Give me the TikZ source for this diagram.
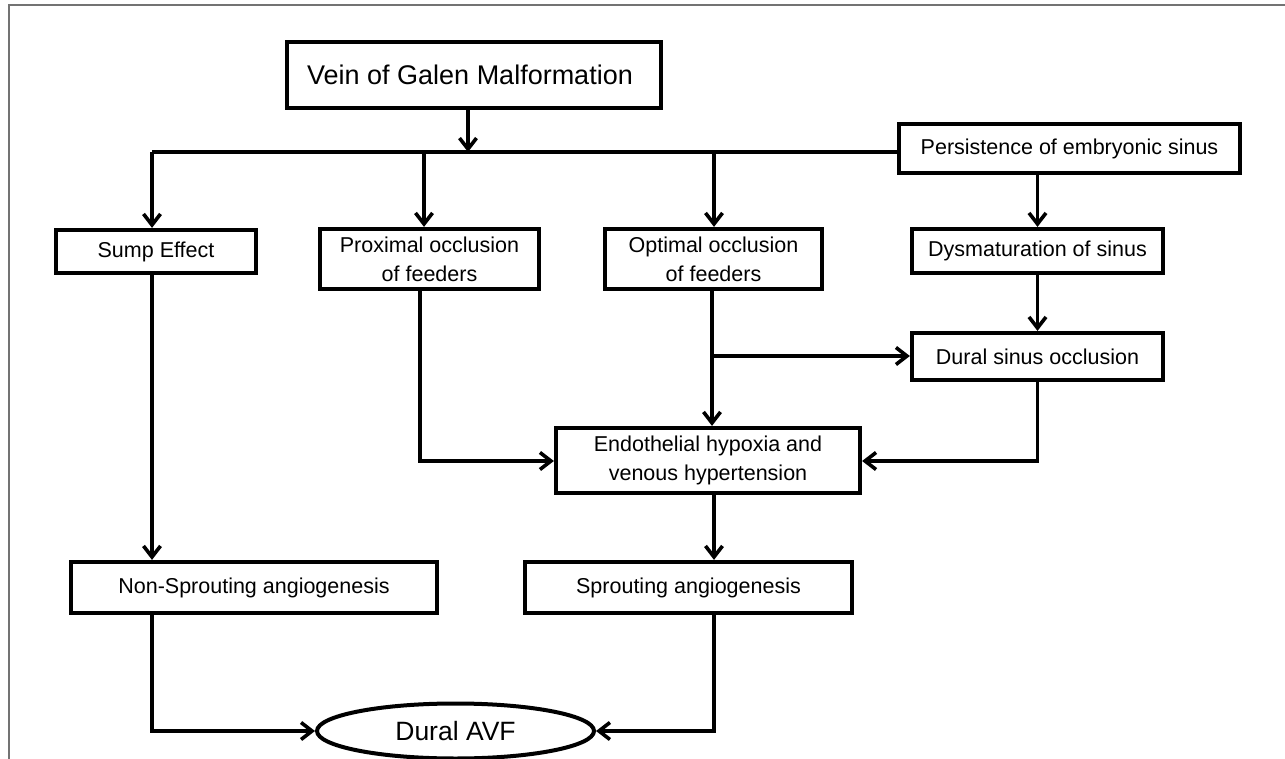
\documentclass[tikz,border=0pt]{standalone}
\usepackage{fontspec}
\setmainfont{Liberation Sans}
\usetikzlibrary{arrows.meta,shapes.geometric}
\begin{document}
\begin{tikzpicture}[x=1pt,y=-1pt,
  box/.style={draw, line width=4.2pt, rectangle, inner sep=0pt, align=center,
    font=\fontsize{21.5}{29}\selectfont},
  conn/.style={line width=3.6pt, line cap=butt, line join=miter},
  arr/.style={conn, -{Straight Barb[length=11pt,width=17pt]}}]
\useasboundingbox (0,0) rectangle (1285,759);
\fill[white] (0,0) rectangle (1285,759);
\draw[black!55, line width=1.3pt] (9,759) -- (9,5) -- (1285,5);

% nodes
\node[box, minimum width=374pt, minimum height=66pt, font=\fontsize{27}{32}\selectfont] (vein) at (474,75) {Vein of Galen Malformation\hspace*{8pt}};
\node[box, minimum width=341pt, minimum height=49pt] (pers) at (1069.5,148.5) {Persistence of embryonic sinus};
\node[box, minimum width=200pt, minimum height=43pt] (sump) at (156,251.5) {Sump Effect};
\node[box, minimum width=219pt, minimum height=60pt] (prox) at (429.5,259) {Proximal occlusion\\of feeders};
\node[box, minimum width=217pt, minimum height=60pt] (opt) at (713.5,259) {Optimal occlusion\\of feeders};
\node[box, minimum width=251pt, minimum height=44pt] (dys) at (1037.5,251) {Dysmaturation of sinus};
\node[box, minimum width=251pt, minimum height=47pt] (dural) at (1037.5,356.5) {Dural sinus occlusion};
\node[box, minimum width=304pt, minimum height=65pt] (endo) at (708,460.5) {Endothelial hypoxia and\\venous hypertension};
\node[box, minimum width=366pt, minimum height=51pt] (nons) at (254,587.5) {Non-Sprouting angiogenesis};
\node[box, minimum width=327pt, minimum height=51pt] (spr) at (688.5,587.5) {Sprouting angiogenesis};
\node[draw, ellipse, line width=4pt, minimum width=277pt, minimum height=55pt, inner sep=0pt,
  font=\fontsize{26.5}{30}\selectfont] (avf) at (455.5,731) {Dural AVF};

% junction coordinates
\coordinate (jv) at (468,152);
\coordinate (jl) at (152,152);
\coordinate (jp) at (424,152);
\coordinate (jo) at (714,152);
\coordinate (cp) at (420,461);
\coordinate (cb) at (712,356);
\coordinate (cd) at (1037.5,461);
\coordinate (cs) at (714,731);
\coordinate (cn) at (152,731);

% connectors
\draw[arr] (vein.south -| jv) -- (jv);
\draw[conn] (jl) -- (jl -| pers.west);
\draw[arr] (jl) -- (jl |- sump.north);
\draw[arr] (jp) -- (jp |- prox.north);
\draw[arr] (jo) -- (jo |- opt.north);
\draw[arr] (pers.south -| dys.north) -- (dys.north);
\draw[arr] (dys.south) -- (dural.north);
\draw[arr] (jl |- sump.south) -- (jl |- nons.north);
\draw[arr] (cp |- prox.south) -- (cp) -- (cp -| endo.west);
\draw[arr] (cb |- opt.south) -- (cb |- endo.north);
\draw[arr] (cb) -- (cb -| dural.west);
\draw[arr] (dural.south) -- (cd) -- (cd -| endo.east);
\draw[arr] (cs |- endo.south) -- (cs |- spr.north);
\draw[arr] (cs |- spr.south) -- (cs) -- (cs -| avf.east);
\draw[arr] (cn |- nons.south) -- (cn) -- (cn -| avf.west);
\end{tikzpicture}
\end{document}
